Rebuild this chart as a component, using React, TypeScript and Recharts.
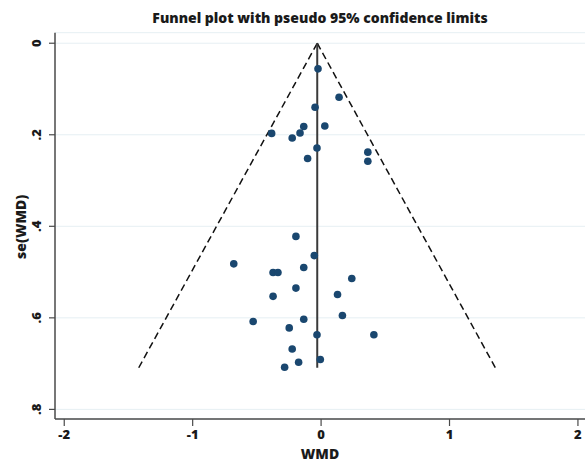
import React from 'react';
import { ScatterChart, Scatter, XAxis, YAxis, CartesianGrid, ReferenceLine, Label } from 'recharts';

const wmd = [-0.024, 0.14, -0.047, -0.135, 0.029, -0.385, -0.164, -0.225, -0.032, 0.364, 0.364, -0.105,
  -0.196, -0.053, -0.68, -0.135, -0.374, -0.336, 0.239, -0.196, -0.374, 0.128, 0.166, -0.135,
  -0.529, -0.248, -0.032, 0.411, -0.225, -0.006, -0.175, -0.284];
const seWmd = [0.056, 0.118, 0.14, 0.182, 0.181, 0.197, 0.196, 0.207, 0.229, 0.238, 0.258, 0.252,
  0.422, 0.464, 0.482, 0.49, 0.501, 0.501, 0.514, 0.535, 0.553, 0.549, 0.595, 0.603,
  0.608, 0.622, 0.637, 0.637, 0.668, 0.691, 0.697, 0.708];

const xTicks = [-2, -1, 0, 1, 2];
const yTicks = [0, 0.2, 0.4, 0.6, 0.8];
const yTickLabels = ['0', '.2', '.4', '.6', '.8'];

const pooledWmd = -0.03;
const maxSe = 0.709;
const funnelLeftX = -1.42;
const funnelRightX = 1.357;

const points = wmd.map((x, i) => ({ x, y: seWmd[i] }));

const FONT = '"Open Sans", "DejaVu Sans", sans-serif';
const AXIS = '#4a4a4a';
const TXT = '#1a1a1a';

const YTick = (props: any) => {
  const { x, y, payload } = props;
  const idx = yTicks.indexOf(payload.value);
  const label = idx >= 0 ? yTickLabels[idx] : String(payload.value);
  const bx = x - 5.5;
  return (
    <text x={bx} y={y} transform={`rotate(-90 ${bx} ${y})`} textAnchor="middle"
      fontFamily={FONT} fontWeight={800} fontSize={13} fill={TXT}>{label}</text>
  );
};

const XTick = (props: any) => {
  const { x, y, payload } = props;
  return (
    <text x={x} y={y + 10.5} textAnchor="middle" fontFamily={FONT} fontWeight={800} fontSize={13} fill={TXT}>
      {String(payload.value)}
    </text>
  );
};

const Dot = (props: any) => <circle cx={props.cx} cy={props.cy} r={3.8} fill="#1a476f" />;

export default function App() {
  return (
    <div style={{ position: 'absolute', left: 0, top: 0, width: 587, height: 462, background: '#fff' }}>
      <svg width={587} height={32} style={{ position: 'absolute', left: 0, top: 0 }}>
        <text x={320} y={23.3} textAnchor="middle" fontFamily={FONT} fontWeight={800} fontSize={14} fill={TXT}>
          Funnel plot with pseudo 95% confidence limits
        </text>
      </svg>
      <div style={{ position: 'absolute', left: 0, top: 0 }}>
        <ScatterChart width={587} height={462} margin={{ top: 32.7, right: 2, bottom: 0, left: 0 }}>
          <CartesianGrid horizontal vertical={false} stroke="#e6eff3" strokeWidth={1} />
          <XAxis type="number" dataKey="x" domain={[-2.072, 2.055]} ticks={xTicks} allowDataOverflow
            height={43} tickSize={7} tick={<XTick />} interval={0}
            axisLine={{ stroke: AXIS, strokeWidth: 1.5 }} tickLine={{ stroke: AXIS, strokeWidth: 1.2 }}>
            <Label value="WMD" position="insideBottom" offset={3} fontFamily={FONT} fontWeight={800} fontSize={14} fill={TXT} />
          </XAxis>
          <YAxis type="number" dataKey="y" domain={[-0.023, 0.821]} ticks={yTicks} allowDataOverflow reversed
            width={55} tickSize={6} tick={<YTick />} interval={0}
            axisLine={{ stroke: AXIS, strokeWidth: 1.5 }} tickLine={{ stroke: AXIS, strokeWidth: 1.2 }}>
            <Label content={(p: any) => {
              const vb = p.viewBox || {};
              const cx = 26;
              const cy = (vb.y ?? 32.7) + (vb.height ?? 386) / 2 + 1;
              return (
                <text x={cx} y={cy} transform={`rotate(-90 ${cx} ${cy})`} textAnchor="middle"
                  fontFamily={FONT} fontWeight={800} fontSize={14} fill={TXT}>se(WMD)</text>
              );
            }} />
          </YAxis>
          <ReferenceLine segment={[{ x: funnelLeftX, y: maxSe }, { x: pooledWmd, y: 0 }]}
            stroke="#111" strokeWidth={1.5} strokeDasharray="7 4" ifOverflow="visible" />
          <ReferenceLine segment={[{ x: pooledWmd, y: 0 }, { x: funnelRightX, y: maxSe }]}
            stroke="#111" strokeWidth={1.5} strokeDasharray="7 4" ifOverflow="visible" />
          <ReferenceLine segment={[{ x: pooledWmd, y: 0 }, { x: pooledWmd, y: maxSe }]}
            stroke="#3a3a3a" strokeWidth={2} ifOverflow="visible" />
          <Scatter data={points} shape={<Dot />} isAnimationActive={false} />
        </ScatterChart>
      </div>
    </div>
  );
}
